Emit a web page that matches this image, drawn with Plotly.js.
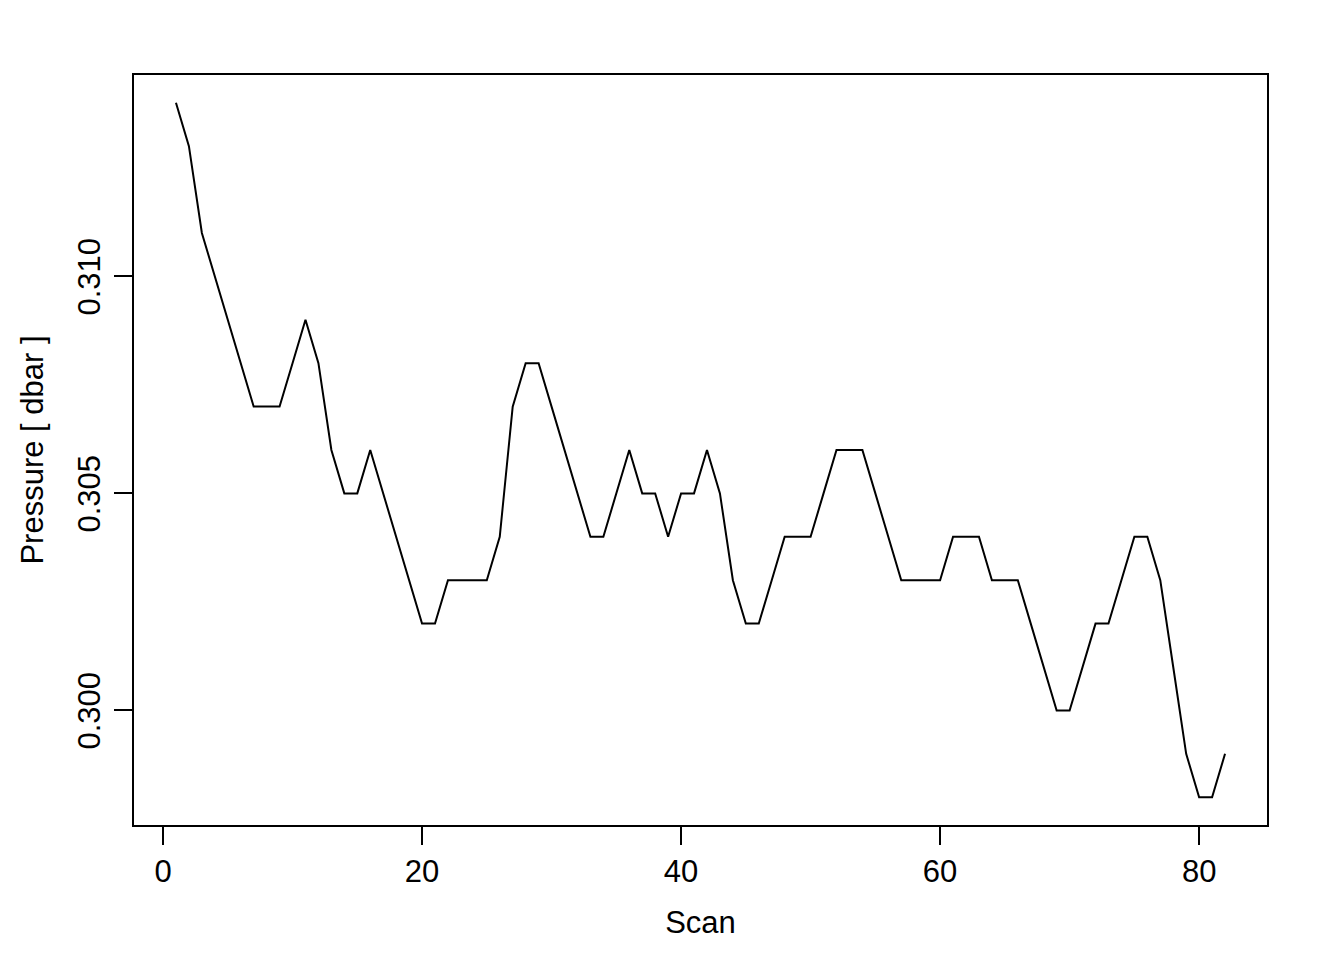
<!DOCTYPE html>
<html>
<head>
<meta charset="utf-8">
<script src="https://cdn.plot.ly/plotly-3.0.1.min.js"></script>
<style>html,body{margin:0;padding:0;background:#fff;}#chart{width:1344px;height:960px;}</style>
</head>
<body>
<div id="chart"></div>
<script>
const scan = [];
for (let i = 1; i <= 82; i++) scan.push(i);
const pressure = [
  0.314, 0.313, 0.311, 0.310, 0.309, 0.308, 0.307, 0.307, 0.307, 0.308,
  0.309, 0.308, 0.306, 0.305, 0.305, 0.306, 0.305, 0.304, 0.303, 0.302,
  0.302, 0.303, 0.303, 0.303, 0.303, 0.304, 0.307, 0.308, 0.308, 0.307,
  0.306, 0.305, 0.304, 0.304, 0.305, 0.306, 0.305, 0.305, 0.304, 0.305,
  0.305, 0.306, 0.305, 0.303, 0.302, 0.302, 0.303, 0.304, 0.304, 0.304,
  0.305, 0.306, 0.306, 0.306, 0.305, 0.304, 0.303, 0.303, 0.303, 0.303,
  0.304, 0.304, 0.304, 0.303, 0.303, 0.303, 0.302, 0.301, 0.300, 0.300,
  0.301, 0.302, 0.302, 0.303, 0.304, 0.304, 0.303, 0.301, 0.299, 0.298,
  0.298, 0.299
];
const xTicks = [0, 20, 40, 60, 80];
const yTicks = [0.300, 0.305, 0.310];
const yTickLabels = ["0.300", "0.305", "0.310"];

const font = {family: "Liberation Sans, Arial, sans-serif", size: 31, color: "#000"};

Plotly.newPlot("chart", [{
  x: scan, y: pressure, type: "scatter", mode: "lines",
  line: {color: "#000", width: 2}, hoverinfo: "skip"
}], {
  width: 1344, height: 960,
  margin: {l: 134, r: 77, t: 75, b: 135},
  paper_bgcolor: "#fff", plot_bgcolor: "#fff",
  font: font,
  showlegend: false,
  xaxis: {
    range: [-2.24, 85.24], tickvals: xTicks, ticktext: xTicks.map(String),
    showgrid: false, zeroline: false, showline: true, mirror: true,
    linecolor: "#000", linewidth: 2, ticks: "outside", ticklen: 18, tickwidth: 2, tickcolor: "#000",
    tickfont: font, ticklabelstandoff: 0,
    title: {text: "Scan", font: font, standoff: 23}
  },
  yaxis: {
    range: [0.29736, 0.31464], tickvals: yTicks, ticktext: yTickLabels,
    showgrid: false, zeroline: false, showline: true, mirror: true,
    linecolor: "#000", linewidth: 2, ticks: "outside", ticklen: 18, tickwidth: 2, tickcolor: "#000",
    tickfont: font, tickangle: -90, ticklabelstandoff: 2, ticklabelshift: 5,
    title: {text: "Pressure [ dbar ]", font: font, standoff: 19}
  }
}, {staticPlot: true});
</script>
</body>
</html>
